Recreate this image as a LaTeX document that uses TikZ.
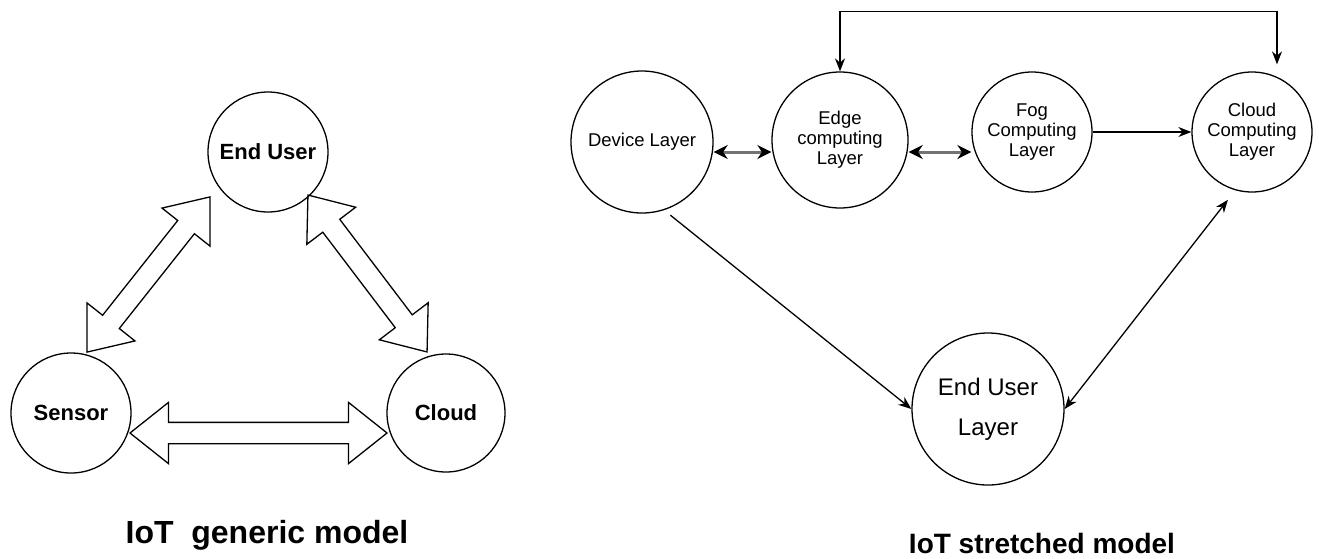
\documentclass[tikz,border=0pt]{standalone}
\usepackage{fontspec}
\setmainfont{Liberation Sans}
\usepackage{tikz}
\usetikzlibrary{arrows.meta,shapes.arrows}

\begin{document}
\begin{tikzpicture}[x=1pt,y=-1pt,->,>={Stealth[length=13pt,width=10pt]},line width=1.3pt,
		main node/.style={circle,draw,inner sep=0pt,align=center},
		big node/.style={main node,font=\fontsize{22}{26}\selectfont\bfseries},
		layer node/.style={main node,font=\fontsize{18.5}{20}\selectfont},
		block arrow/.style={double arrow,draw,minimum width=60pt,double arrow head extend=20pt,double arrow tip angle=77,inner xsep=0pt,inner ysep=10pt},
		thick arrow/.style={<->,draw=black!55,line width=3pt,>={Stealth[black,length=14pt,width=14pt]}},
		caption/.style={anchor=base}]
		
		\useasboundingbox (0,0) rectangle (1319,558);
		
		% generic model
		\node[big node,minimum size=120pt] (user) at (268,152) {End User};
		\node[big node,minimum size=120pt] (sensor) at (71,413) {Sensor};
		\node[big node,minimum size=118pt] (cloud) at (446,413) {Cloud};
		
		\node[block arrow,minimum height=198pt,rotate=51.6] (su) at (148.5,274.5) {};
		\node[block arrow,minimum height=197pt,rotate=-52.8] (uc) at (367.5,273.5) {};
		\node[block arrow,minimum height=257pt] (sc) at (258.5,433) {};
		
		\node[caption,font=\fontsize{32}{36}\selectfont\bfseries] (generic) at (267,543) {IoT\ \ generic model};
		
		% stretched model
		\node[layer node,minimum size=142pt] (device) at (642,142) {Device Layer};
		\node[layer node,minimum size=136pt] (edge) at (840,140) {Edge\\computing\\Layer};
		\node[layer node,minimum size=120pt] (fog) at (1032,132) {Fog\\Computing\\Layer};
		\node[layer node,minimum size=120pt] (cc) at (1252,132) {Cloud\\Computing\\Layer};
		\node[main node,minimum size=152pt,font=\fontsize{24}{40}\selectfont] (enduser) at (988,409) {End User\\Layer};
		
		\draw[thick arrow] ([yshift=-10pt]device.east) -- ([yshift=-12pt]edge.west);
		\draw[thick arrow] ([yshift=-12pt]edge.east) -- ([yshift=-20pt]fog.west);
		\draw (fog) -- (cc);
		\draw[<->] (edge.north) |- ([xshift=25pt,yshift=60pt]cc.north) -- ([xshift=25pt,yshift=7pt]cc.north);
		\draw[shorten <=8pt] (device.-72) -- (enduser.west);
		\draw[<->,shorten >=12pt] (enduser.east) -- (cc.254);
		
		\node[caption,font=\fontsize{28}{32}\selectfont\bfseries] (stretched) at (1042,553) {IoT stretched model};
		
\end{tikzpicture}
\end{document}
